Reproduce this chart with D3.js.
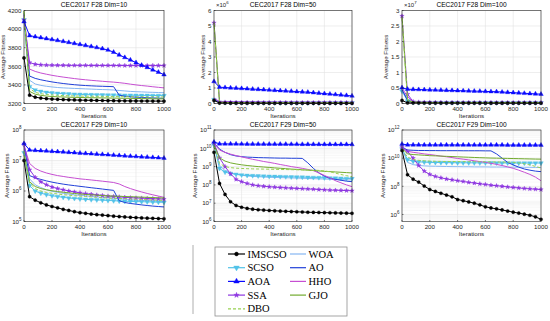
<!DOCTYPE html>
<html>
<head>
<meta charset="utf-8">
<script src="https://cdn.jsdelivr.net/npm/d3@7"></script>
<style>
body { margin: 0; background: #fff; }
svg { display: block; font-family: "Liberation Sans", Arial, sans-serif; }
</style>
</head>
<body>
<svg id="chart" width="550" height="321"></svg>
<script>

// iterations where the curves (and markers) are sampled
var iters = [0,40,80,120,160,200,240,280,320,360,400,440,480,520,560,600,640,680,720,760,800,840,880,920,960,1000];

var names = ["IMSCSO","WOA","SCSO","AO","AOA","HHO","SSA","GJO","DBO"];
var colors = ["#000000","#86b6f2","#52c2e8","#2140d8","#0a0aff","#c64fd2","#8d35e0","#72ab2e","#98d150"];
var dashes = [null,null,null,null,null,null,null,null,"3,2"];
var marks = ["circle",null,"down",null,"up",null,"star",null,null];

var xTicks = [0,200,400,600,800,1000];

// F28 Dim=10 (rows follow `names`)
var f28d10 = [
  [3690,3290,3268,3258,3252,3248,3245,3242,3240,3238,3236,3235,3234,3233,3232,3231,3230,3229,3229,3228,3228,3227,3227,3226,3226,3225],
  [4150,3450,3410,3395,3385,3378,3372,3368,3365,3362,3360,3357,3355,3352,3350,3348,3345,3340,3335,3330,3327,3325,3322,3320,3318,3316],
  [4100,3380,3345,3330,3320,3314,3310,3306,3303,3300,3298,3296,3295,3294,3293,3292,3291,3290,3289,3289,3288,3287,3287,3286,3286,3285],
  [4170,3495,3470,3455,3443,3432,3423,3415,3408,3402,3397,3393,3390,3387,3385,3383,3381,3290,3278,3272,3268,3265,3262,3260,3258,3256],
  [4080,3930,3918,3908,3898,3888,3878,3868,3857,3846,3835,3824,3813,3802,3790,3775,3752,3722,3695,3668,3640,3612,3588,3562,3537,3510],
  [4150,3570,3545,3528,3515,3503,3493,3484,3476,3468,3461,3455,3449,3444,3439,3434,3430,3424,3417,3408,3400,3393,3387,3380,3374,3368],
  [4100,3640,3622,3616,3613,3612,3611,3611,3610,3610,3610,3610,3609,3609,3609,3609,3609,3609,3608,3608,3608,3608,3608,3608,3608,3608],
  [4195,3330,3300,3288,3280,3275,3272,3270,3268,3266,3265,3263,3262,3261,3260,3259,3258,3257,3256,3255,3254,3253,3252,3251,3250,3250],
  [4190,3360,3320,3305,3297,3292,3288,3285,3283,3281,3280,3279,3278,3277,3276,3275,3274,3274,3273,3273,3272,3272,3271,3271,3270,3270]
];

// F28 Dim=50, in units of 10^6
var f28d50 = [
  [0.2,0.03,0.025,0.022,0.02,0.019,0.018,0.017,0.017,0.016,0.016,0.016,0.015,0.015,0.015,0.015,0.015,0.014,0.014,0.014,0.014,0.014,0.014,0.014,0.014,0.014],
  [0.3,0.08,0.072,0.068,0.065,0.063,0.061,0.06,0.059,0.058,0.057,0.056,0.055,0.055,0.054,0.054,0.053,0.053,0.052,0.052,0.051,0.051,0.05,0.05,0.05,0.05],
  [0.25,0.07,0.062,0.058,0.055,0.053,0.052,0.051,0.05,0.05,0.049,0.049,0.048,0.048,0.048,0.047,0.047,0.047,0.046,0.046,0.046,0.046,0.045,0.045,0.045,0.045],
  [0.3,0.1,0.092,0.087,0.083,0.08,0.078,0.076,0.074,0.073,0.072,0.071,0.07,0.069,0.068,0.067,0.066,0.055,0.05,0.048,0.047,0.046,0.045,0.045,0.044,0.044],
  [1.42,1.05,1.03,1.01,0.99,0.97,0.95,0.93,0.91,0.89,0.87,0.85,0.83,0.81,0.79,0.77,0.75,0.73,0.70,0.67,0.64,0.61,0.58,0.55,0.52,0.49],
  [0.35,0.12,0.11,0.1,0.095,0.092,0.09,0.088,0.086,0.085,0.084,0.083,0.082,0.081,0.08,0.079,0.078,0.077,0.076,0.075,0.074,0.073,0.072,0.071,0.07,0.07],
  [5.2,0.1,0.085,0.078,0.074,0.071,0.069,0.067,0.066,0.065,0.064,0.063,0.063,0.062,0.062,0.061,0.061,0.06,0.06,0.06,0.06,0.059,0.059,0.059,0.059,0.058],
  [5.25,0.08,0.065,0.058,0.054,0.051,0.049,0.047,0.046,0.045,0.044,0.044,0.043,0.043,0.042,0.042,0.042,0.041,0.041,0.041,0.04,0.04,0.04,0.04,0.04,0.04],
  [5.1,0.09,0.072,0.064,0.06,0.057,0.055,0.054,0.053,0.052,0.052,0.051,0.051,0.05,0.05,0.05,0.05,0.049,0.049,0.049,0.049,0.048,0.048,0.048,0.048,0.048]
];

// F28 Dim=100, in units of 10^7
var f28d100 = [
  [0.1,0.02,0.018,0.017,0.016,0.015,0.015,0.014,0.014,0.014,0.013,0.013,0.013,0.013,0.013,0.012,0.012,0.012,0.012,0.012,0.012,0.012,0.012,0.012,0.012,0.012],
  [0.45,0.15,0.04,0.032,0.03,0.029,0.028,0.028,0.027,0.027,0.027,0.026,0.026,0.026,0.026,0.026,0.025,0.025,0.025,0.025,0.025,0.025,0.025,0.025,0.025,0.025],
  [0.4,0.08,0.035,0.031,0.029,0.028,0.028,0.027,0.027,0.027,0.026,0.026,0.026,0.026,0.026,0.025,0.025,0.025,0.025,0.025,0.025,0.025,0.025,0.025,0.025,0.025],
  [0.45,0.1,0.04,0.036,0.034,0.033,0.033,0.032,0.032,0.032,0.031,0.031,0.031,0.031,0.031,0.031,0.03,0.028,0.027,0.027,0.026,0.026,0.026,0.026,0.026,0.026],
  [0.51,0.46,0.455,0.45,0.445,0.44,0.435,0.43,0.425,0.42,0.415,0.41,0.405,0.4,0.395,0.39,0.385,0.38,0.37,0.36,0.35,0.34,0.33,0.32,0.31,0.3],
  [0.5,0.22,0.05,0.038,0.035,0.034,0.033,0.033,0.032,0.032,0.032,0.031,0.031,0.031,0.031,0.03,0.03,0.03,0.03,0.03,0.03,0.03,0.03,0.03,0.03,0.03],
  [2.82,0.3,0.06,0.045,0.04,0.038,0.036,0.035,0.034,0.034,0.033,0.033,0.033,0.032,0.032,0.032,0.032,0.031,0.031,0.031,0.031,0.031,0.031,0.03,0.03,0.03],
  [2.8,0.1,0.04,0.035,0.033,0.032,0.032,0.031,0.031,0.031,0.03,0.03,0.03,0.03,0.03,0.03,0.03,0.03,0.03,0.03,0.03,0.03,0.03,0.03,0.03,0.03],
  [2.75,0.12,0.05,0.042,0.039,0.038,0.037,0.036,0.036,0.035,0.035,0.035,0.035,0.035,0.035,0.035,0.035,0.035,0.035,0.035,0.035,0.035,0.035,0.035,0.035,0.035]
];

// F29 Dim=10
var f29d10 = [
  [1e7,6.5e5,5e5,4.1e5,3.5e5,3.1e5,2.8e5,2.5e5,2.3e5,2.1e5,1.95e5,1.85e5,1.75e5,1.68e5,1.62e5,1.56e5,1.5e5,1.45e5,1.41e5,1.37e5,1.34e5,1.31e5,1.29e5,1.27e5,1.25e5,1.23e5],
  [2.5e7,2.5e6,1.6e6,1.3e6,1.1e6,9.8e5,9e5,8.4e5,7.9e5,7.5e5,7.2e5,6.9e5,6.6e5,6.4e5,6.2e5,6e5,5.8e5,5.6e5,5.4e5,5.2e5,5e5,4.9e5,4.8e5,4.7e5,4.6e5,4.5e5],
  [1.8e7,1.5e6,1e6,8.5e5,7.6e5,7e5,6.6e5,6.2e5,5.9e5,5.7e5,5.5e5,5.3e5,5.2e5,5.1e5,5e5,4.9e5,4.8e5,4.7e5,4.6e5,4.55e5,4.5e5,4.45e5,4.4e5,4.35e5,4.3e5,4.25e5],
  [3e7,3.2e6,2.7e6,2.4e6,2.15e6,1.95e6,1.8e6,1.68e6,1.58e6,1.5e6,1.42e6,1.35e6,1.28e6,1.22e6,1.16e6,1.1e6,1.05e6,4.8e5,4.2e5,3.9e5,3.7e5,3.5e5,3.35e5,3.2e5,3.1e5,3e5],
  [3.6e7,2.2e7,2.15e7,2.1e7,2.05e7,2e7,1.95e7,1.9e7,1.85e7,1.8e7,1.75e7,1.7e7,1.66e7,1.62e7,1.58e7,1.54e7,1.5e7,1.46e7,1.42e7,1.38e7,1.35e7,1.32e7,1.29e7,1.26e7,1.23e7,1.2e7],
  [3e7,8e6,5.5e6,4.5e6,3.9e6,3.5e6,3.2e6,3e6,2.8e6,2.65e6,2.5e6,2.4e6,2.3e6,2.2e6,2.1e6,2e6,1.9e6,1.7e6,1.4e6,1.2e6,1.05e6,9.3e5,8.3e5,7.5e5,6.8e5,6.2e5],
  [3.5e7,5e6,2.8e6,2e6,1.6e6,1.35e6,1.2e6,1.1e6,1e6,9.3e5,8.7e5,8.2e5,7.8e5,7.4e5,7.1e5,6.8e5,6.6e5,6.4e5,6.2e5,6e5,5.9e5,5.8e5,5.7e5,5.6e5,5.5e5,5.4e5],
  [1.5e7,2e6,1.4e6,1.2e6,1.1e6,1.02e6,9.6e5,9.1e5,8.7e5,8.3e5,8e5,7.7e5,7.5e5,7.3e5,7.1e5,6.9e5,6.8e5,6.7e5,6.6e5,6.5e5,6.4e5,6.3e5,6.2e5,6.1e5,6e5,5.9e5],
  [2e7,1.8e6,1.2e6,1e6,9e5,8.4e5,8e5,7.6e5,7.3e5,7e5,6.8e5,6.6e5,6.4e5,6.2e5,6e5,5.9e5,5.8e5,5.7e5,5.6e5,5.5e5,5.4e5,5.3e5,5.2e5,5.1e5,5e5,4.9e5]
];

// F29 Dim=50
var f29d50 = [
  [6e9,1.2e8,3e7,1.2e7,7.5e6,6e6,5.2e6,4.7e6,4.4e6,4.2e6,4e6,3.85e6,3.7e6,3.6e6,3.5e6,3.4e6,3.3e6,3.2e6,3.15e6,3.1e6,3.05e6,3e6,2.95e6,2.9e6,2.85e6,2.8e6],
  [1.8e10,1.2e9,6e8,4.5e8,3.8e8,3.4e8,3.1e8,2.9e8,2.8e8,2.7e8,2.6e8,2.55e8,2.5e8,2.45e8,2.4e8,2.35e8,2.3e8,2.25e8,2.2e8,2.15e8,2.1e8,2.05e8,2e8,1.95e8,1.9e8,1.85e8],
  [1.5e10,8e8,5e8,4.2e8,3.8e8,3.5e8,3.3e8,3.2e8,3.1e8,3e8,2.95e8,2.9e8,2.85e8,2.8e8,2.75e8,2.7e8,2.65e8,2.6e8,2.55e8,2.5e8,2.45e8,2.4e8,2.35e8,2.3e8,2.25e8,2.2e8],
  [2e10,9e9,6e9,4.5e9,3.8e9,3.5e9,3.3e9,3.2e9,3.1e9,3.05e9,3e9,2.95e9,2.9e9,2.9e9,2.85e9,2.85e9,2.8e9,1.6e9,8e8,4.5e8,3e8,2.3e8,2e8,1.8e8,1.6e8,1.5e8],
  [2.2e10,1.75e10,1.74e10,1.73e10,1.72e10,1.71e10,1.7e10,1.7e10,1.69e10,1.69e10,1.68e10,1.68e10,1.67e10,1.67e10,1.66e10,1.66e10,1.65e10,1.65e10,1.65e10,1.64e10,1.64e10,1.64e10,1.63e10,1.63e10,1.63e10,1.62e10],
  [2e10,8e9,6e9,4.8e9,4e9,3.4e9,2.9e9,2.5e9,2.2e9,1.9e9,1.7e9,1.5e9,1.3e9,1.15e9,1e9,9e8,8e8,7e8,6e8,4.5e8,3.3e8,2.4e8,1.7e8,1.3e8,1e8,8e7],
  [2e10,3e9,1e9,4e8,2e8,1.5e8,1.2e8,1e8,9e7,8.4e7,7.9e7,7.5e7,7.2e7,6.9e7,6.6e7,6.4e7,6.2e7,6e7,5.8e7,5.6e7,5.4e7,5.2e7,5.1e7,5e7,4.9e7,4.8e7],
  [1.5e10,3e9,2e9,1.6e9,1.4e9,1.25e9,1.15e9,1.07e9,1e9,9.5e8,9e8,8.5e8,8.1e8,7.7e8,7.3e8,7e8,6.7e8,6.4e8,6.1e8,5.8e8,5.5e8,5.3e8,5.1e8,4.9e8,4.7e8,4.5e8],
  [1.2e10,1.5e9,1e9,8.8e8,8.2e8,7.9e8,7.7e8,7.5e8,7.4e8,7.3e8,7.2e8,7.1e8,7e8,6.9e8,6.8e8,6.7e8,6.6e8,6.5e8,6.4e8,6.2e8,5.8e8,5.2e8,4.4e8,3.7e8,3.2e8,2.8e8]
];

// F29 Dim=100
var f29d100 = [
  [3.5e10,6.6e8,3.2e8,2e8,1.05e8,5.9e7,4.3e7,3.2e7,2.4e7,1.8e7,1.15e7,9.5e6,7.8e6,6.3e6,4.8e6,3.5e6,2.9e6,2.5e6,2.1e6,1.75e6,1.45e6,1.25e6,1.05e6,8.8e5,6.8e5,4.5e5],
  [5e10,5e9,3.5e9,3e9,2.8e9,2.7e9,2.65e9,2.6e9,2.55e9,2.5e9,2.5e9,2.45e9,2.45e9,2.4e9,2.4e9,2.4e9,2.35e9,2.35e9,2.35e9,2.3e9,2.3e9,2.3e9,2.25e9,2.25e9,2.2e9,2.2e9],
  [4.5e10,8e9,6e9,5.5e9,5.2e9,5e9,4.9e9,4.85e9,4.8e9,4.75e9,4.7e9,4.7e9,4.65e9,4.65e9,4.6e9,4.6e9,4.6e9,4.55e9,4.55e9,4.55e9,4.5e9,4.5e9,4.5e9,4.5e9,4.5e9,4.5e9],
  [6e10,3.8e10,3.6e10,3.5e10,3.5e10,3.45e10,3.45e10,3.4e10,3.4e10,3.4e10,3.4e10,3.35e10,3.35e10,3.35e10,3.35e10,3.3e10,3.3e10,2e10,1e10,5e9,3.3e9,2.3e9,1.7e9,1.4e9,1.2e9,1.1e9],
  [1e11,8.8e10,8.8e10,8.8e10,8.7e10,8.7e10,8.7e10,8.7e10,8.7e10,8.7e10,8.7e10,8.6e10,8.6e10,8.6e10,8.6e10,8.6e10,8.6e10,8.6e10,8.6e10,8.5e10,8.5e10,8.5e10,8.5e10,8.5e10,8.5e10,8.5e10],
  [6e10,3e10,2.6e10,2.3e10,2e10,1.8e10,1.6e10,1.4e10,1.25e10,1.1e10,9.5e9,8.5e9,7.5e9,6.5e9,5.7e9,5e9,4.3e9,3.6e9,3e9,2.4e9,1.9e9,1.4e9,1e9,7e8,4.5e8,2.5e8],
  [6e10,3e10,1e10,3e9,1.2e9,7e8,5e8,4e8,3.3e8,2.9e8,2.5e8,2.2e8,1.9e8,1.7e8,1.5e8,1.35e8,1.2e8,1.1e8,1e8,9e7,8.3e7,7.6e7,7e7,6.6e7,6.2e7,5.9e7],
  [5e10,2e10,1.8e10,1.7e10,1.6e10,1.5e10,1.45e10,1.4e10,1.35e10,1.3e10,1.25e10,1.2e10,1.16e10,1.12e10,1.08e10,1.05e10,1.02e10,1e10,9.8e9,9.6e9,9.4e9,9.2e9,9e9,8.8e9,8.6e9,8.5e9],
  [4e10,1.2e10,8e9,7e9,6.5e9,6.2e9,6e9,5.9e9,5.8e9,5.8e9,5.7e9,5.7e9,5.6e9,5.6e9,5.5e9,5.5e9,5.4e9,5.4e9,5.3e9,5.2e9,5e9,4.6e9,4e9,3.3e9,2.6e9,2e9]
];

var yt28d10 = [3200,3400,3600,3800,4000,4200];
var yt28d50 = [0,1,2,3,4,5,6];
var yt28d100 = [0,0.5,1,1.5,2,2.5,3];
var yt29d10 = [1e5,1e6,1e7,1e8];
var yt29d50 = [1e6,1e7,1e8,1e9,1e10,1e11];
var yt29d100 = [1e6,1e8,1e10,1e12];

var panels = [
  {title: "CEC2017 F28 Dim=10",  data: f28d10,  log: false, dom: [3200, 4200], ticks: yt28d10, exp: null, col: 0, row: 0},
  {title: "CEC2017 F28 Dim=50",  data: f28d50,  log: false, dom: [0, 6], ticks: yt28d50, exp: "6", col: 1, row: 0},
  {title: "CEC2017 F28 Dim=100", data: f28d100, log: false, dom: [0, 3], ticks: yt28d100, exp: "7", col: 2, row: 0},
  {title: "CEC2017 F29 Dim=10",  data: f29d10,  log: true, dom: [1e5, 1e8], ticks: yt29d10, col: 0, row: 1},
  {title: "CEC2017 F29 Dim=50",  data: f29d50,  log: true, dom: [1e6, 1e11], ticks: yt29d50, col: 1, row: 1},
  {title: "CEC2017 F29 Dim=100", data: f29d100, log: true, dom: [Math.pow(10, 5.5), 1e12], ticks: yt29d100, col: 2, row: 1}
];

var colLeft = [24, 214, 402], colRight = [164, 352, 541];
var rowTop = [10.5, 130], rowBottom = [103.5, 221.5];
var axisColor = "#262626";

var svg = d3.select("#chart");

// marker areas (px^2) for the plots and for the legend
var markSize = {circle: 8, up: 9, down: 9, star: 6};
var legendScale = 1.5;

function markerPath(type, k) {
  var a = markSize[type] * k;
  if (type == "circle") return d3.symbol(d3.symbolCircle, a)();
  if (type == "star") return d3.symbol(d3.symbolStar, a)();
  return d3.symbol(d3.symbolTriangle, a)();
}

function drawMarkers(g, pts, i, k) {
  var t = marks[i];
  if (!t) return;
  g.selectAll(null).data(pts).enter().append("path")
    .attr("d", markerPath(t, k))
    .attr("transform", function (d) {
      return "translate(" + d[0] + "," + d[1] + ")" + (t == "down" ? " rotate(180)" : "");
    })
    .attr("fill", colors[i])
    .attr("stroke", colors[i])
    .attr("stroke-width", 0.4);
}

function supText(sel, base, exp, size) {
  sel.append("tspan").text(base);
  sel.append("tspan").attr("dy", -size * 0.45).attr("font-size", size * 0.72).text(exp);
}

panels.forEach(function (p, pi) {
  var L = colLeft[p.col], R = colRight[p.col], T = rowTop[p.row], B = rowBottom[p.row];
  var x = d3.scaleLinear().domain([0, 1000]).range([L, R]);
  var y = (p.log ? d3.scaleLog() : d3.scaleLinear()).domain(p.dom).range([B, T]);
  var g = svg.append("g");

  // grid
  var grid = g.append("g");
  if (p.log) {
    var lo = Math.floor(Math.log10(p.dom[0])), hi = Math.ceil(Math.log10(p.dom[1]));
    var minor = [];
    for (var e = lo; e < hi; e++) for (var m = 2; m < 10; m++) {
      var v = m * Math.pow(10, e);
      if (v > p.dom[0] && v < p.dom[1]) minor.push(v);
    }
    grid.selectAll(null).data(minor).enter().append("line")
      .attr("x1", L).attr("x2", R)
      .attr("y1", function (d) { return y(d); }).attr("y2", function (d) { return y(d); })
      .attr("stroke", "#f0f0f0").attr("stroke-width", 0.5);
  }
  grid.selectAll(null).data(xTicks).enter().append("line")
    .attr("x1", function (d) { return x(d); }).attr("x2", function (d) { return x(d); })
    .attr("y1", T).attr("y2", B)
    .attr("stroke", "#e3e3e3").attr("stroke-width", 0.6);
  grid.selectAll(null).data(p.ticks).enter().append("line")
    .attr("x1", L).attr("x2", R)
    .attr("y1", function (d) { return y(d); }).attr("y2", function (d) { return y(d); })
    .attr("stroke", "#e3e3e3").attr("stroke-width", 0.6);

  // series
  var clipId = "clip" + pi;
  g.append("clipPath").attr("id", clipId).append("rect")
    .attr("x", L - 3).attr("y", T - 3).attr("width", R - L + 6).attr("height", B - T + 6);
  var plot = g.append("g").attr("clip-path", "url(#" + clipId + ")");
  var line = d3.line().x(function (d) { return x(d[0]); }).y(function (d) { return y(d[1]); });
  var order = [1, 2, 3, 5, 6, 7, 8, 4, 0];
  order.forEach(function (i) {
    var pts = iters.map(function (it, k) { return [it, p.data[i][k]]; });
    plot.append("path").attr("d", line(pts))
      .attr("fill", "none").attr("stroke", colors[i])
      .attr("stroke-width", 1)
      .attr("stroke-dasharray", dashes[i]);
    drawMarkers(plot, pts.map(function (d) { return [x(d[0]), y(d[1])]; }), i, 1);
  });

  // box + ticks
  g.append("rect").attr("x", L).attr("y", T).attr("width", R - L).attr("height", B - T)
    .attr("fill", "none").attr("stroke", axisColor).attr("stroke-width", 0.6);
  g.selectAll(null).data(xTicks).enter().append("line")
    .attr("x1", function (d) { return x(d); }).attr("x2", function (d) { return x(d); })
    .attr("y1", B).attr("y2", B - 1.5).attr("stroke", axisColor).attr("stroke-width", 0.6);
  g.selectAll(null).data(p.ticks).enter().append("line")
    .attr("x1", L).attr("x2", L + 1.5)
    .attr("y1", function (d) { return y(d); }).attr("y2", function (d) { return y(d); })
    .attr("stroke", axisColor).attr("stroke-width", 0.6);

  // tick labels
  g.selectAll(null).data(xTicks).enter().append("text")
    .attr("x", function (d) { return x(d); }).attr("y", B + 7.5)
    .attr("text-anchor", "middle").attr("font-size", 6.2).attr("fill", axisColor)
    .text(function (d) { return d; });
  var yl = g.append("g");
  yl.selectAll(null).data(p.ticks).enter().append("text")
    .attr("x", L - 2.5).attr("y", function (d) { return y(d) + 2.2; })
    .attr("text-anchor", "end").attr("font-size", 6.2).attr("fill", axisColor)
    .each(function (d) {
      if (p.log) supText(d3.select(this), "10", Math.round(Math.log10(d)), 6.2);
      else d3.select(this).text(d);
    });

  if (p.exp) {
    var ex = g.append("text").attr("x", L + 2).attr("y", T - 3.5)
      .attr("font-size", 6).attr("fill", axisColor);
    supText(ex, "\u00d710", p.exp, 6);
  }

  // axis titles
  var bb = yl.node().getBBox();
  g.append("text")
    .attr("transform", "translate(" + (bb.x - 3) + "," + ((T + B) / 2) + ") rotate(-90)")
    .attr("text-anchor", "middle").attr("font-size", 6.2).attr("fill", axisColor)
    .text("Average Fitness");
  g.append("text").attr("x", (L + R) / 2).attr("y", B + 14.5)
    .attr("text-anchor", "middle").attr("font-size", 6.2).attr("fill", axisColor)
    .text("Iterations");
  g.append("text").attr("x", (L + R) / 2).attr("y", T - 3.5)
    .attr("text-anchor", "middle").attr("font-size", 6.6).attr("fill", "#000")
    .text(p.title);
});

// separator line left of the legend
svg.append("line").attr("x1", 193).attr("x2", 193).attr("y1", 245).attr("y2", 314)
  .attr("stroke", "#9a9a9a").attr("stroke-width", 0.8);

// legend
var lg = svg.append("g").attr("font-family", "'Liberation Serif','Times New Roman',serif");
lg.append("rect").attr("x", 215).attr("y", 247).attr("width", 132).attr("height", 69)
  .attr("fill", "#fff").attr("stroke", "#8f8f8f").attr("stroke-width", 0.8);
var lgCols = [{x1: 228, x2: 245, tx: 247.5}, {x1: 290, x2: 306, tx: 308.5}];
names.forEach(function (n, i) {
  var c = lgCols[i % 2], cy = 254 + Math.floor(i / 2) * 13.7;
  lg.append("line").attr("x1", c.x1).attr("x2", c.x2).attr("y1", cy).attr("y2", cy)
    .attr("stroke", colors[i]).attr("stroke-width", 1.2)
    .attr("stroke-dasharray", dashes[i]);
  drawMarkers(lg, [[(c.x1 + c.x2) / 2, cy]], i, legendScale);
  lg.append("text").attr("x", c.tx).attr("y", cy + 3.6)
    .attr("font-size", 10.5).attr("fill", "#000").text(n);
});

</script>
</body>
</html>
